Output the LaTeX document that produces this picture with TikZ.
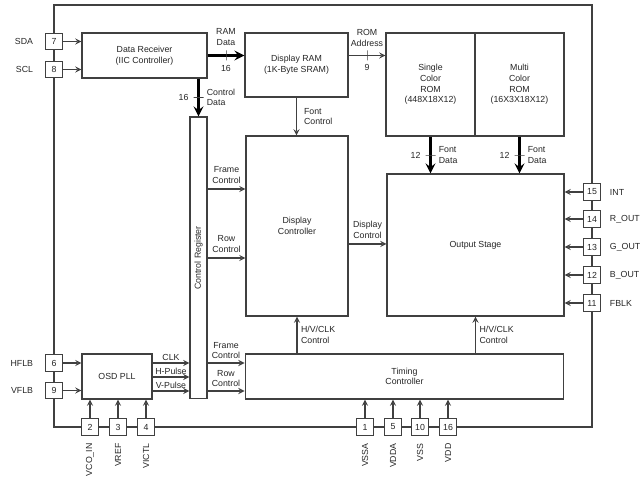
\documentclass[tikz,border=0pt]{standalone}
\usepackage{fontspec}
\setmainfont{Liberation Sans}
\usepackage{graphicx}
\usetikzlibrary{arrows,positioning}

\begin{document}
\begin{tikzpicture}[
  x=0.02cm, y=-0.02cm,
  every node/.style={font=\fontsize{5}{6}\selectfont, text=black!85},
  box/.style={rectangle, draw=black!75, fill=white, semithick, inner sep=0pt, align=center},
  pin/.style={rectangle, draw=black!75, fill=white, semithick, inner sep=0pt, minimum width=0.33cm, minimum height=0.33cm},
  lbl/.style={align=center, inner sep=1pt},
  arrow/.style={->, >=stealth, draw=black!75, semithick},
  bus/.style={->, >=stealth, draw=black, line width=1.5pt},
  busmark/.style={sloped, draw=black!75, thin, inner sep=0pt, minimum width=0pt, minimum height=0.2cm}
]
  \useasboundingbox (0,0) rectangle (643,489);
  \draw[black!75, semithick] (54,5) rectangle (592,427);

  % blocks
  \node[box, minimum width=2.5cm, minimum height=0.9cm] (recv) at (144.5,55.5) {Data Receiver\\(IIC Controller)};
  \node[box, minimum width=2.06cm, minimum height=1.28cm] (ram) at (296.5,65) {Display RAM\\(1K-Byte SRAM)};
  \node[box, minimum width=1.78cm, minimum height=2.06cm] (srom) at (430.5,84.5) {Single\\Color\\ROM\\(448X18X12)};
  \node[box, minimum width=1.78cm, minimum height=2.06cm] (mrom) at (519.5,84.5) {Multi\\Color\\ROM\\(16X3X18X12)};
  \node[box, minimum width=0.34cm, minimum height=5.64cm] (creg) at (198.5,258) {\rotatebox{90}{Control Register}};
  \node[box, minimum width=2.04cm, minimum height=3.6cm] (disp) at (297,226) {Display\\Controller};
  \node[box, minimum width=3.54cm, minimum height=2.84cm] (out) at (475.5,245) {Output Stage};
  \node[box, minimum width=6.38cm, minimum height=0.9cm] (timing) at (404.5,376.5) {Timing\\Controller};
  \node[box, minimum width=1.4cm, minimum height=0.9cm] (pll) at (117,376.5) {OSD PLL};

  % pins
  \node[pin] (p7) at (54,41.5) {7};
  \node[pin] (p8) at (54,69.5) {8};
  \node[pin] (p6) at (54,363) {6};
  \node[pin] (p9) at (54,390.5) {9};
  \node[pin] (p2) at (90,427) {2};
  \node[pin] (p3) at (118,427) {3};
  \node[pin] (p4) at (146,427) {4};
  \node[pin] (p1) at (365,427) {1};
  \node[pin] (p5) at (393,427) {5};
  \node[pin] (p10) at (420,427) {10};
  \node[pin] (p16) at (448,427) {16};
  \node[pin] (p15) at (592,192) {15};
  \node[pin] (p14) at (592,219) {14};
  \node[pin] (p13) at (592,247) {13};
  \node[pin] (p12) at (592,275) {12};
  \node[pin] (p11) at (592,303) {11};

  \node[left=0.12cm of p7] (lsda) {SDA};
  \node[left=0.12cm of p8] (lscl) {SCL};
  \node[left=0.12cm of p6] (lhflb) {HFLB};
  \node[left=0.12cm of p9] (lvflb) {VFLB};
  \node[right=0.06cm of p15] (lint) {INT};
  \node[right=0.06cm of p14] (lrout) {R\_OUT};
  \node[right=0.06cm of p13] (lgout) {G\_OUT};
  \node[right=0.06cm of p12] (lbout) {B\_OUT};
  \node[right=0.06cm of p11] (lfblk) {FBLK};
  \node[rotate=90, anchor=east] (lvco) at ([yshift=-0.03cm]p2.south) {VCO\_IN};
  \node[rotate=90, anchor=east] (lvref) at ([yshift=-0.03cm]p3.south) {VREF};
  \node[rotate=90, anchor=east] (lvictl) at ([yshift=-0.03cm]p4.south) {VICTL};
  \node[rotate=90, anchor=east] (lvssa) at ([yshift=-0.03cm]p1.south) {VSSA};
  \node[rotate=90, anchor=east] (lvdda) at ([yshift=-0.03cm]p5.south) {VDDA};
  \node[rotate=90, anchor=east] (lvss) at ([yshift=-0.03cm]p10.south) {VSS};
  \node[rotate=90, anchor=east] (lvdd) at ([yshift=-0.03cm]p16.south) {VDD};

  % pin connections
  \draw[arrow] (p7) -- (p7 -| recv.west);
  \draw[arrow] (p8) -- (p8 -| recv.west);
  \draw[arrow] (p6) -- (p6 -| pll.west);
  \draw[arrow] (p9) -- (p9 -| pll.west);
  \draw[arrow] (p2) -- (p2 |- pll.south);
  \draw[arrow] (p3) -- (p3 |- pll.south);
  \draw[arrow] (p4) -- (p4 |- pll.south);
  \draw[arrow] (p1) -- (p1 |- timing.south);
  \draw[arrow] (p5) -- (p5 |- timing.south);
  \draw[arrow] (p10) -- (p10 |- timing.south);
  \draw[arrow] (p16) -- (p16 |- timing.south);
  \draw[arrow] (p15) -- (p15 -| out.east);
  \draw[arrow] (p14) -- (p14 -| out.east);
  \draw[arrow] (p13) -- (p13 -| out.east);
  \draw[arrow] (p12) -- (p12 -| out.east);
  \draw[arrow] (p11) -- (p11 -| out.east);

  % buses
  \draw[bus] (recv.east) -- (recv.east -| ram.west)
    node[midway, busmark]{} node[midway, lbl, above=4pt]{RAM\\Data} node[midway, lbl, below=4pt]{16};
  \draw[bus] (recv.south -| creg.north) -- (creg.north)
    node[midway, busmark]{} node[midway, lbl, left=4pt]{16} node[midway, lbl, right=3pt, align=left]{Control\\Data};
  \draw[bus] (srom.south) -- (srom.south |- out.north)
    node[midway, busmark]{} node[midway, lbl, left=4pt]{12} node[midway, lbl, right=3pt, align=left]{Font\\Data};
  \draw[bus] (mrom.south) -- (mrom.south |- out.north)
    node[midway, busmark]{} node[midway, lbl, left=4pt]{12} node[midway, lbl, right=3pt, align=left]{Font\\Data};

  % signals
  \draw[arrow] (ram.east |- recv.east) -- (srom.west |- recv.east)
    node[midway, busmark]{} node[midway, lbl, above=4pt]{ROM\\Address} node[midway, lbl, below=4pt]{9};
  \draw[arrow] (ram.south) -- (ram.south |- disp.north) node[midway, lbl, right=3pt, align=left]{Font\\Control};
  \draw[arrow] (creg.east |- 0,189) -- (disp.west |- 0,189) node[midway, lbl, above=2pt]{Frame\\Control};
  \draw[arrow] (creg.east |- 0,258) -- (disp.west |- 0,258) node[midway, lbl, above=2pt]{Row\\Control};
  \draw[arrow] (disp.east |- 0,244) -- (out.west |- 0,244) node[midway, lbl, above=2pt]{Display\\Control};
  \draw[arrow] (disp.south |- timing.north) -- (disp.south) node[midway, lbl, right=1pt, align=left]{H/V/CLK\\Control};
  \draw[arrow] (out.south |- timing.north) -- (out.south) node[midway, lbl, right=1pt, align=left]{H/V/CLK\\Control};
  \draw[arrow] (pll.east |- 0,363) -- (creg.west |- 0,363) node[midway, lbl, above=0pt]{CLK};
  \draw[arrow] (pll.east |- 0,377) -- (creg.west |- 0,377) node[midway, lbl, above=0pt]{H-Pulse};
  \draw[arrow] (pll.east |- 0,391) -- (creg.west |- 0,391) node[midway, lbl, above=0pt]{V-Pulse};
  \draw[arrow] (creg.east |- 0,363) -- (timing.west |- 0,363) node[midway, lbl, above=1pt]{Frame\\Control};
  \draw[arrow] (creg.east |- 0,391) -- (timing.west |- 0,391) node[midway, lbl, above=1pt]{Row\\Control};
\end{tikzpicture}
\end{document}
